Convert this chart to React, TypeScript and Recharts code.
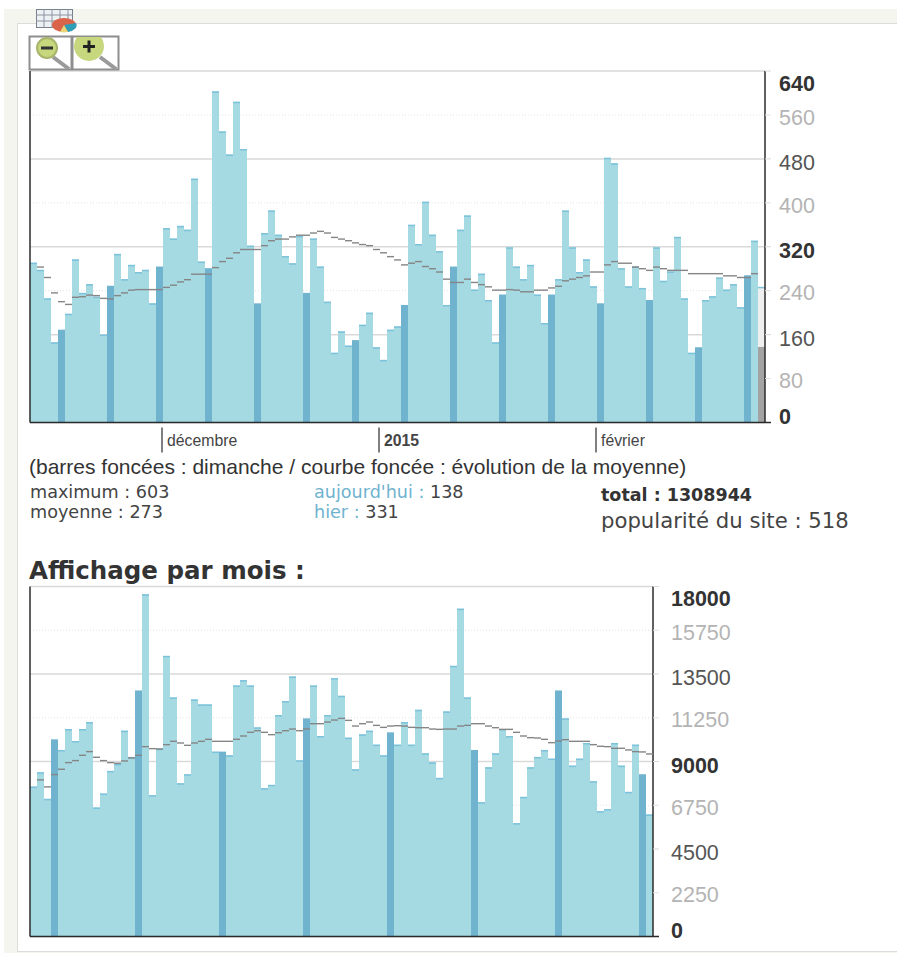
import React from "react";
import { Bar, Line, ComposedChart, XAxis, YAxis, CartesianGrid } from "recharts";

const COLORS = {
  bar: "#a6dae3",
  cap: "#7cc2da",
  dark: "#70b3cf",
  avg: "#858585",
  today: "#a3a3a3",
  todayRest: "#efefef",
  major: "#d9d9d9",
  minor: "#e2e2e2",
  axis: "#2b2b2b",
};

// daily views, oldest first
const dailyViews = [
  291, 278, 226, 146, 169, 198, 297, 236, 252, 229, 160, 249, 307, 261, 287, 274, 278, 217, 284, 354, 335,
  358, 351, 444, 293, 281, 603, 530, 488, 584, 498, 322, 217, 345, 386, 342, 303, 290, 340, 236, 335, 284,
  220, 127, 166, 140, 150, 178, 200, 137, 114, 169, 175, 214, 360, 325, 402, 342, 312, 214, 284, 351, 377,
  242, 271, 223, 146, 233, 319, 284, 261, 287, 233, 181, 233, 261, 386, 319, 274, 297, 248, 217, 482, 472,
  281, 248, 284, 245, 223, 319, 258, 275, 338, 226, 127, 137, 223, 230, 264, 242, 252, 210, 268, 331, 138,
];
const dailyAverage = [
  null, 283, 264, 236, 220, 215, 228, 229, 232, 231, 226, 225, 231, 236, 241, 242, 242, 242, 242, 246, 250,
  256, 260, 270, 270, 270, 282, 293, 299, 309, 315, 315, 315, 322, 331, 334, 334, 338, 341, 341, 345, 348,
  345, 337, 334, 331, 327, 324, 322, 315, 309, 302, 296, 287, 290, 293, 284, 280, 274, 261, 255, 255, 261,
  255, 251, 247, 241, 241, 242, 241, 238, 238, 241, 241, 245, 248, 258, 261, 264, 267, 274, 274, 287, 293,
  290, 290, 283, 280, 277, 283, 280, 277, 277, 277, 271, 271, 271, 271, 271, 267, 267, 264, 264, 271, null,
];
const dailyProjectedRest = 109; // today's bar is topped up to the projected value
const dailyTicks = [0, 80, 160, 240, 320, 400, 480, 560, 640];
const dailyMajor = [0, 160, 320, 480, 640];
const dailyMinor = [80, 240, 400, 560];
const monthLabels: Record<number, { text: string; bold?: boolean }> = {
  19: { text: "décembre" },
  50: { text: "2015", bold: true },
  81: { text: "février" },
};

const monthlyViews = [
  7712, 8447, 7079, 10140, 9593, 10670, 10055, 10670, 11030, 6635, 7353, 8516, 8875, 10585, 9234, 12654, 17600,
  7268, 9660, 14432, 12295, 7883, 8345, 12192, 11936, 11936, 9508, 9508, 9320, 12910, 13184, 12910, 10756, 7627,
  7798, 11389, 12107, 13372, 9063, 11218, 12910, 10311, 11389, 13287, 12380, 10226, 8600, 10397, 10585, 9867,
  9320, 10500, 9867, 11030, 9867, 11660, 9422, 8960, 8157, 11576, 13920, 16860, 12295, 9593, 6908, 8704, 9422,
  10670, 10311, 5830, 7182, 8704, 9234, 9593, 9148, 12654, 11218, 8789, 9148, 9952, 7986, 6447, 6550, 9952, 8789,
  7438, 9867, 8345, 6276,
];
const monthlyAverage = [
  null, 8054, 7695, 8328, 8601, 8943, 9046, 9320, 9508, 9217, 9046, 8943, 8909, 9029, 9183, 9320, 9764, 9661,
  9644, 9867, 10038, 9952, 9832, 9952, 10038, 10140, 10038, 10038, 10038, 10140, 10311, 10500, 10585, 10500,
  10380, 10482, 10585, 10670, 10585, 10670, 10944, 10944, 11030, 11132, 11218, 11115, 10824, 10944, 11030, 10858,
  10756, 10824, 10841, 10824, 10756, 10739, 10739, 10670, 10653, 10670, 10670, 10824, 10858, 10944, 10944, 10824,
  10739, 10653, 10653, 10500, 10311, 10226, 10209, 10140, 9969, 10055, 10123, 10038, 10038, 10038, 9867, 9781,
  9764, 9679, 9679, 9593, 9508, 9491, 9388,
];
const monthlyTicks = [0, 2250, 4500, 6750, 9000, 11250, 13500, 15750, 18000];
const monthlyMajor = [0, 4500, 9000, 13500, 18000];
const monthlyMinor = [2250, 6750, 11250, 15750];

const dailyData = dailyViews.map((views, i) => ({
  i,
  views,
  avg: dailyAverage[i],
  rest: i === dailyViews.length - 1 ? dailyProjectedRest : 0,
  dark: (i - 4) % 7 === 0,
  today: i === dailyViews.length - 1,
}));
const monthlyData = monthlyViews.map((views, i) => ({
  i,
  views,
  avg: monthlyAverage[i],
  rest: 0,
  dark: (i - 3) % 12 === 0,
  today: false,
}));

const SANS = "'Liberation Sans', Arial, sans-serif";
const VERDANA = "'DejaVu Sans', Verdana, sans-serif";

const BarShape = ({ x, y, width, height, payload }: any) => {
  if (!height || height <= 0) return null;
  const fill = payload.today ? COLORS.today : payload.dark ? COLORS.dark : COLORS.bar;
  return (
    <g>
      <rect x={x} y={y} width={width} height={height} fill={fill} />
      {!payload.dark && !payload.today && <rect x={x} y={y} width={width} height={1.5} fill={COLORS.cap} />}
    </g>
  );
};

const RestShape = ({ x, y, width, height }: any) => {
  if (!height || height <= 0) return null;
  return (
    <g>
      <rect x={x} y={y} width={width} height={height} fill={COLORS.todayRest} />
      <rect x={x} y={y} width={width} height={1.5} fill={COLORS.cap} />
    </g>
  );
};

const AvgDash = ({ cx, cy, index }: any) => {
  if (cy == null || Number.isNaN(cy)) return <g key={index} />;
  return <line key={index} x1={cx - 3.5} x2={cx + 3.5} y1={cy} y2={cy} stroke={COLORS.avg} strokeWidth={1.4} />;
};

const makeValueTick = (ticks: number[], major: number[], dx: number) => ({ x, y, payload }: any) => {
  const v = payload.value;
  const first = v === ticks[ticks.length - 1];
  const last = v === 0;
  const mid = v === ticks[4];
  const isMajor = major.includes(v);
  const dy = first ? 12 : last ? -6.5 : isMajor ? 3.5 : 2;
  const bold = first || last || mid;
  return (
    <g>
      <line x1={x - 14} x2={x - 8} y1={y} y2={y} stroke={last ? COLORS.axis : isMajor ? COLORS.major : COLORS.minor} strokeWidth={last ? 1.5 : 1} />
      <text
        x={x + dx}
        y={y + dy}
        dy="0.36em"
        fontFamily={SANS}
        fontSize={21.5}
        fontWeight={bold ? 700 : 400}
        fill={bold ? "#333" : isMajor ? "#555" : "#b4b4b4"}
      >
        {v}
      </text>
    </g>
  );
};

const MonthTick = ({ x, y, payload }: any) => {
  const m = monthLabels[payload.value];
  if (!m) return <g />;
  const left = x - 4.5;
  return (
    <g>
      <line x1={left} x2={left} y1={y - 3} y2={y + 22} stroke={COLORS.axis} strokeWidth={1.2} />
      <text x={left + 5} y={y + 15.5} fontFamily={SANS} fontSize={15.8} fontWeight={m.bold ? 700 : 400} fill="#444">
        {m.text}
      </text>
    </g>
  );
};

const Txt = ({ x, y, size, font = VERDANA, bold, color = "#444", children }: any) => (
  <div
    style={{
      position: "absolute",
      left: x,
      top: y,
      fontFamily: font,
      fontSize: size,
      fontWeight: bold ? 700 : 400,
      color,
      lineHeight: 1,
      whiteSpace: "nowrap",
    }}
  >
    {children}
  </div>
);

const Icons = () => (
  <svg width={130} height={72} style={{ position: "absolute", left: 0, top: 0 }}>
    <defs>
      <clipPath id="plusClip">
        <rect x={73} y={37} width={45} height={32} />
      </clipPath>
    </defs>
    {/* table + pie icon */}
    <rect x={36.5} y={9.5} width={36} height={18} fill="#eef1f4" stroke="#77808c" />
    {[15, 21].map((y) => <line key={y} x1={36} x2={73} y1={y} y2={y} stroke="#8b94a0" />)}
    {[44, 52, 60, 68].map((x) => <line key={x} x1={x} x2={x} y1={9} y2={28} stroke="#8b94a0" />)}
    <ellipse cx={64} cy={25} rx={12} ry={7} fill="#d9644a" />
    <path d="M64 25 L76 23 A12 7 0 0 1 68 32 Z" fill="#2f9fb8" />
    <path d="M64 25 L68 32 A12 7 0 0 1 60 32 Z" fill="#e9d77a" />
    {/* zoom buttons */}
    <rect x={29.5} y={36.5} width={42} height={33} fill="#fff" stroke="#8e8e8e" strokeWidth={2} />
    <rect x={72.5} y={36.5} width={46} height={33} fill="#fff" stroke="#8e8e8e" strokeWidth={2} />
    <line x1={53} x2={69} y1={57} y2={69} stroke="#9a9a9a" strokeWidth={4} />
    <circle cx={47} cy={48} r={10} fill="#c6d77e" stroke="#a9b56a" strokeWidth={2} />
    <rect x={41} y={46.5} width={12} height={3} fill="#333" />
    <line x1={100} x2={116} y1={57} y2={69} stroke="#9a9a9a" strokeWidth={4} />
    <circle cx={89} cy={46} r={15} fill="#c6d77e" clipPath="url(#plusClip)" />
    <rect x={83} y={45} width={12} height={3} fill="#222" />
    <rect x={87.5} y={40.5} width={3} height={12} fill="#222" />
  </svg>
);

const DailyTick = makeValueTick(dailyTicks, dailyMajor, 0);
const MonthlyTick = makeValueTick(monthlyTicks, monthlyMajor, 4);

function DailyChart() {
  return (
    <ComposedChart
      width={897}
      height={460}
      data={dailyData}
      barCategoryGap={0}
      margin={{ top: 71, right: 72, bottom: 0, left: 29 }}
      style={{ position: "absolute", left: 0, top: 0 }}
    >
      <CartesianGrid yAxisId="v" horizontalValues={dailyMinor} vertical={false} stroke={COLORS.minor} strokeDasharray="1 2" />
      <CartesianGrid yAxisId="v" horizontalValues={dailyMajor} vertical={false} stroke={COLORS.major} strokeWidth={1.5} />
      <XAxis dataKey="i" interval={0} height={37.5} tick={<MonthTick />} tickLine={false} axisLine={{ stroke: COLORS.axis, strokeWidth: 1.5 }} />
      <YAxis yAxisId="v" orientation="right" width={60} domain={[0, 640]} ticks={dailyTicks} interval={0} tick={<DailyTick />} tickLine={false} tickSize={6} tickMargin={8} axisLine={{ stroke: COLORS.axis, strokeWidth: 1.5 }} />
      <YAxis yAxisId="edge" orientation="left" width={1} domain={[0, 640]} tick={false} tickLine={false} axisLine={{ stroke: COLORS.axis, strokeWidth: 1.5 }} />
      <Bar yAxisId="v" dataKey="views" stackId="day" shape={<BarShape />} isAnimationActive={false} />
      <Bar yAxisId="v" dataKey="rest" stackId="day" shape={<RestShape />} isAnimationActive={false} />
      <Line yAxisId="v" dataKey="avg" stroke="none" dot={AvgDash} activeDot={false} isAnimationActive={false} />
    </ComposedChart>
  );
}

function MonthlyChart() {
  return (
    <ComposedChart
      width={897}
      height={390}
      data={monthlyData}
      barCategoryGap={0}
      margin={{ top: 26.5, right: 184, bottom: 12.5, left: 29 }}
      style={{ position: "absolute", left: 0, top: 560 }}
    >
      <CartesianGrid yAxisId="v" horizontalValues={monthlyMinor} vertical={false} stroke={COLORS.minor} strokeDasharray="1 2" />
      <CartesianGrid yAxisId="v" horizontalValues={monthlyMajor} vertical={false} stroke={COLORS.major} strokeWidth={1.5} />
      <XAxis dataKey="i" height={1} tick={false} tickLine={false} axisLine={{ stroke: COLORS.axis, strokeWidth: 1.5 }} />
      <YAxis yAxisId="v" orientation="right" width={60} domain={[0, 18000]} ticks={monthlyTicks} interval={0} tick={<MonthlyTick />} tickLine={false} tickSize={6} tickMargin={8} axisLine={{ stroke: COLORS.axis, strokeWidth: 1.5 }} />
      <YAxis yAxisId="edge" orientation="left" width={1} domain={[0, 18000]} tick={false} tickLine={false} axisLine={{ stroke: COLORS.axis, strokeWidth: 1.5 }} />
      <Bar yAxisId="v" dataKey="views" shape={<BarShape />} isAnimationActive={false} />
      <Line yAxisId="v" dataKey="avg" stroke="none" dot={AvgDash} activeDot={false} isAnimationActive={false} />
    </ComposedChart>
  );
}

export default function App() {
  return (
    <div style={{ position: "absolute", left: 0, top: 0, width: 897, height: 955, background: "#fff", overflow: "hidden" }}>
      <div style={{ position: "absolute", left: 4, top: 9, width: 893, height: 946, background: "#f5f5f0" }} />
      <div style={{ position: "absolute", left: 17, top: 23, width: 880, height: 929, background: "#fff", border: "1px solid #dcdcdc", borderRight: "none", boxSizing: "border-box" }} />
      <div style={{ position: "absolute", left: 0, top: 953, width: 897, height: 2, background: "#fff" }} />
      <DailyChart />
      <MonthlyChart />
      <Icons />
      <Txt x={29} y={456} size={21} font={SANS} color="#333">(barres foncées : dimanche / courbe foncée : évolution de la moyenne)</Txt>
      <Txt x={30} y={483.5} size={17.6}>maximum : 603</Txt>
      <Txt x={30} y={503.5} size={17.6}>moyenne : 273</Txt>
      <Txt x={314} y={483.5} size={17.6} color="#6fb3cf">aujourd'hui : <span style={{ color: "#444" }}>138</span></Txt>
      <Txt x={314} y={503.5} size={17.6} color="#6fb3cf">hier : <span style={{ color: "#444" }}>331</span></Txt>
      <Txt x={601} y={487} size={17.5} bold color="#333">total : 1308944</Txt>
      <Txt x={601} y={510} size={21.2}>popularité du site : 518</Txt>
      <Txt x={29} y={559} size={24.5} bold color="#333">Affichage par mois :</Txt>
    </div>
  );
}
